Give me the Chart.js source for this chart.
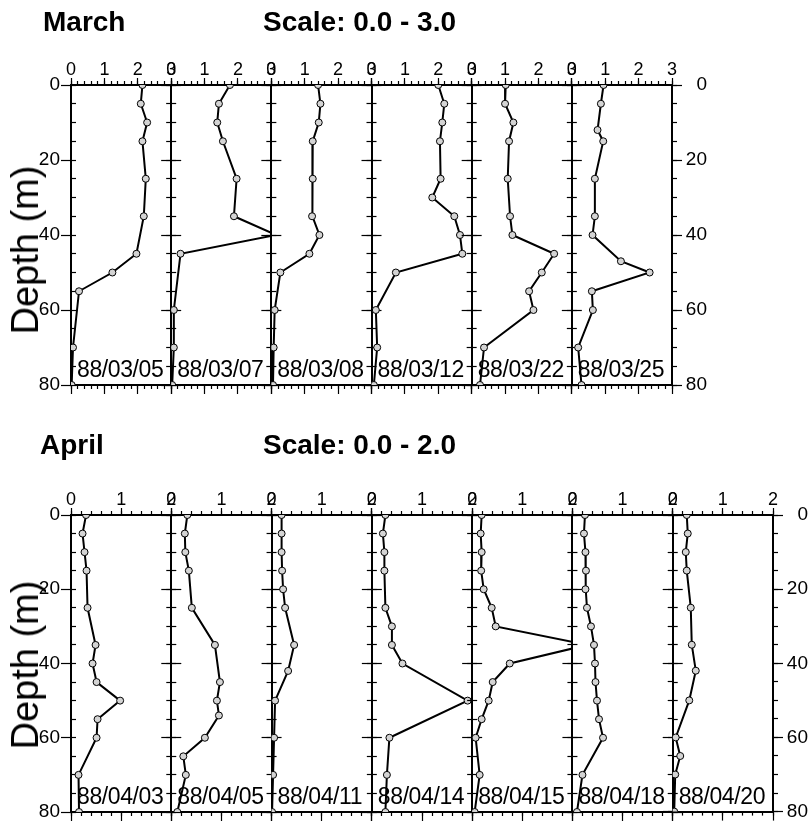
<!DOCTYPE html>
<html>
<head>
<meta charset="utf-8">
<script src="https://cdn.jsdelivr.net/npm/chart.js@4/dist/chart.umd.min.js"></script>
<style>
  html, body { margin: 0; padding: 0; background: #fff; }
  #wrap { position: relative; width: 812px; height: 825px; overflow: hidden;
          font-family: "Liberation Sans", Arial, Helvetica, sans-serif; }
  #wrap canvas { position: absolute; left: 0; top: 0; }
  .t { position: absolute; white-space: nowrap; color: #000; line-height: 1; }
</style>
</head>
<body>
<div id="wrap"></div>
<script>
// ---- Profile data: depth (m) and value at each station ----
const marchDates = ['88/03/05', '88/03/07', '88/03/08', '88/03/12', '88/03/22', '88/03/25'];
const aprilDates = ['88/04/03', '88/04/05', '88/04/11', '88/04/14', '88/04/15', '88/04/18', '88/04/20'];

const depth_880305 = [0, 5, 10, 15, 25, 35, 45, 50, 55, 70, 80];
const value_880305 = [2.14, 2.09, 2.28, 2.14, 2.24, 2.18, 1.96, 1.24, 0.24, 0.06, 0.02];

const depth_880307 = [0, 5, 10, 15, 25, 35, 40, 45, 60, 70, 80];
const value_880307 = [1.76, 1.43, 1.38, 1.55, 1.96, 1.88, 3.15, 0.28, 0.08, 0.08, 0.03];

const depth_880308 = [0, 5, 10, 15, 25, 35, 40, 45, 50, 60, 70, 80];
const value_880308 = [1.40, 1.47, 1.42, 1.24, 1.24, 1.22, 1.44, 1.14, 0.27, 0.10, 0.07, 0.05];

const depth_880312 = [0, 5, 10, 15, 25, 30, 35, 40, 45, 50, 60, 70, 80];
const value_880312 = [2.00, 2.18, 2.12, 2.05, 2.07, 1.82, 2.48, 2.65, 2.72, 0.73, 0.13, 0.17, 0.07];

const depth_880322 = [0, 5, 10, 15, 25, 35, 40, 45, 50, 55, 60, 70, 80];
const value_880322 = [1.02, 1.00, 1.25, 1.12, 1.08, 1.15, 1.22, 2.47, 2.10, 1.72, 1.85, 0.37, 0.25];

const depth_880325 = [0, 5, 12, 15, 25, 35, 40, 47, 50, 55, 60, 70, 80];
const value_880325 = [0.95, 0.87, 0.77, 0.94, 0.69, 0.69, 0.62, 1.47, 2.33, 0.60, 0.63, 0.19, 0.29];

const depth_880403 = [0, 5, 10, 15, 25, 35, 40, 45, 50, 55, 60, 70, 80];
const value_880403 = [0.30, 0.23, 0.27, 0.31, 0.33, 0.49, 0.43, 0.51, 0.98, 0.53, 0.51, 0.15, 0.16];

const depth_880405 = [0, 5, 10, 15, 25, 35, 45, 50, 54, 60, 65, 70, 80];
const value_880405 = [0.32, 0.27, 0.28, 0.35, 0.41, 0.87, 0.97, 0.91, 0.95, 0.67, 0.24, 0.29, 0.12];

const depth_880411 = [0, 5, 10, 15, 20, 25, 35, 42, 50, 60, 70, 80];
const value_880411 = [0.20, 0.20, 0.20, 0.21, 0.23, 0.27, 0.45, 0.33, 0.07, 0.05, 0.03, 0.01];

const depth_880414 = [0, 5, 10, 15, 25, 30, 35, 40, 50, 60, 70, 80];
const value_880414 = [0.27, 0.22, 0.25, 0.25, 0.27, 0.40, 0.40, 0.61, 1.91, 0.35, 0.30, 0.27];

const depth_880415 = [0, 5, 10, 15, 20, 25, 30, 35, 40, 45, 50, 55, 60, 70, 80];
const value_880415 = [0.19, 0.17, 0.19, 0.18, 0.23, 0.39, 0.47, 2.30, 0.75, 0.41, 0.33, 0.19, 0.07, 0.15, 0.05];

const depth_880418 = [0, 5, 10, 15, 20, 25, 30, 35, 40, 45, 50, 55, 60, 70, 80];
const value_880418 = [0.25, 0.23, 0.26, 0.27, 0.26, 0.29, 0.37, 0.43, 0.45, 0.46, 0.49, 0.53, 0.61, 0.20, 0.09];

const depth_880420 = [0, 5, 10, 15, 25, 35, 42, 50, 60, 65, 70, 80];
const value_880420 = [0.28, 0.30, 0.26, 0.28, 0.36, 0.38, 0.46, 0.33, 0.06, 0.15, 0.05, 0.03];

// ---- Tick labels ----
const marchValueTicks = [0, 1, 2, 3];
const aprilValueTicks = [0, 1, 2];
const valueMinorStep = 0.2;
const depthMajorTicks = [0, 20, 40, 60, 80];
const depthMinorTicks = [0, 5, 10, 15, 20, 25, 30, 35, 40, 45, 50, 55, 60, 65, 70, 75, 80];

const marchProfiles = [
  [depth_880305, value_880305], [depth_880307, value_880307], [depth_880308, value_880308],
  [depth_880312, value_880312], [depth_880322, value_880322], [depth_880325, value_880325]
];
const aprilProfiles = [
  [depth_880403, value_880403], [depth_880405, value_880405], [depth_880411, value_880411],
  [depth_880414, value_880414], [depth_880415, value_880415], [depth_880418, value_880418],
  [depth_880420, value_880420]
];

// ---- Layout ----
const W = 812, H = 825;
const FONT = '"Liberation Sans", Arial, Helvetica, sans-serif';
const TOP_AXIS_H = 30, LEFT_AXIS_W = 40, RIGHT_AXIS_W = 35;
const wrap = document.getElementById('wrap');

function minorTicks(max) {
  const out = [];
  for (let i = 0; i <= Math.round(max / valueMinorStep); i++) out.push(+(i * valueMinorStep).toFixed(2));
  return out;
}

function setTicks(values) { return scale => { scale.ticks = values.map(v => ({ value: v })); }; }
function fixSize(size) {
  return scale => { if (scale.isHorizontal()) scale.height = size; else scale.width = size; };
}

// One axis = one set of tick marks (minor or major) on one side of a panel.
function tickAxis(o) {
  return {
    type: 'linear', axis: o.axis, position: o.position, weight: o.weight || 0,
    min: o.min, max: o.max, reverse: !!o.reverse,
    afterBuildTicks: setTicks(o.values),
    afterFit: fixSize(o.size || 0),
    ticks: {
      display: !!o.labels, autoSkip: false, padding: o.padding || 0, color: '#000',
      font: { family: FONT, size: o.fontSize || 18 }, crossAlign: o.crossAlign || 'near',
      maxRotation: 0, minRotation: 0, callback: v => String(v)
    },
    grid: { display: true, drawOnChartArea: false, drawTicks: true, tickLength: o.len,
            tickColor: '#000', tickWidth: o.tw || 1.2, color: '#000' },
    border: { display: !!o.border, color: '#000', width: 2 }
  };
}

function addText(str, x, baseline, size, weight, extra) {
  const d = document.createElement('div');
  d.className = 't';
  d.textContent = str;
  d.style.left = x + 'px';
  d.style.top = (baseline - 0.8465 * size) + 'px';
  d.style.fontSize = size + 'px';
  d.style.fontWeight = weight || 'normal';
  if (extra) Object.assign(d.style, extra);
  wrap.appendChild(d);
}

function drawRow(row) {
  const n = row.profiles.length;
  const pw = (row.right - row.left) / n;
  const xMinor = minorTicks(row.xMax);
  row.profiles.forEach(([depths, values], i) => {
    const L = row.left + i * pw, R = L + pw;
    const first = i === 0, last = i === n - 1;
    const canvas = document.createElement('canvas');
    canvas.width = W; canvas.height = H;
    wrap.appendChild(canvas);
    const xr = { min: 0, max: row.xMax };
    const yr = { min: 0, max: 80, reverse: true };
    new Chart(canvas, {
      type: 'scatter',
      data: {
        datasets: [{
          data: depths.map((d, k) => ({ x: values[k], y: d })),
          xAxisID: 'x', yAxisID: 'y',
          showLine: true, tension: 0,
          borderColor: '#000', borderWidth: 2,
          pointRadius: 3.5, pointBorderWidth: 1,
          pointBackgroundColor: '#d4d4d4', pointBorderColor: '#000',
          clip: 0
        }]
      },
      options: {
        responsive: false, animation: false, devicePixelRatio: 1, events: [],
        layout: { padding: {
          left: L - LEFT_AXIS_W, right: W - R - RIGHT_AXIS_W,
          top: row.top - TOP_AXIS_H, bottom: H - row.bottom } },
        plugins: { legend: { display: false }, tooltip: { enabled: false } },
        scales: {
          x: tickAxis({ axis: 'x', position: 'top', ...xr, values: xMinor, len: 4, border: true }),
          xTopMajor: tickAxis({ axis: 'x', position: 'top', ...xr, values: row.xTicks, len: 7,
                                labels: true, padding: -3, fontSize: 18, weight: 1, size: TOP_AXIS_H }),
          xBottom: tickAxis({ axis: 'x', position: 'bottom', ...xr, values: xMinor, len: 4, border: true }),
          xBottomMajor: tickAxis({ axis: 'x', position: 'bottom', ...xr, values: row.xTicks, len: 9, weight: 1 }),
          y: tickAxis({ axis: 'y', position: 'left', ...yr, values: depthMinorTicks,
                        len: first ? -5 : 5, border: true }),
          yLeftMajor: tickAxis({ axis: 'y', position: 'left', ...yr, values: depthMajorTicks, len: 10,
                                 labels: first, padding: 1, fontSize: 19, weight: 1, size: LEFT_AXIS_W }),
          yRight: tickAxis({ axis: 'y', position: 'right', ...yr, values: depthMinorTicks, len: 5, border: true }),
          yRightMajor: tickAxis({ axis: 'y', position: 'right', ...yr, values: depthMajorTicks, len: 10,
                                  labels: last, padding: 2, fontSize: 19, crossAlign: 'far',
                                  weight: 1, size: RIGHT_AXIS_W })
        }
      }
    });
    addText(row.dates[i], L + 6, row.bottom - 8, 23, 'normal', { letterSpacing: '-0.4px' });
  });

  // rotated axis title
  const t = document.createElement('div');
  t.className = 't';
  t.textContent = 'Depth (m)';
  t.style.fontSize = '38px';
  t.style.left = '25px';
  t.style.top = row.titleY + 'px';
  t.style.transform = 'translate(-50%, -50%) rotate(-90deg)';
  wrap.appendChild(t);

  addText(row.month, row.monthX, row.headBase, 28, 'bold');
  addText(row.scaleText, 263, row.headBase, 28, 'bold');
}

drawRow({ profiles: marchProfiles, dates: marchDates, xMax: 3, xTicks: marchValueTicks,
          left: 71, right: 672, top: 85, bottom: 385, titleY: 250,
          month: 'March', monthX: 43, scaleText: 'Scale: 0.0 - 3.0', headBase: 32 });
drawRow({ profiles: aprilProfiles, dates: aprilDates, xMax: 2, xTicks: aprilValueTicks,
          left: 71, right: 773, top: 515, bottom: 812, titleY: 665,
          month: 'April', monthX: 40, scaleText: 'Scale: 0.0 - 2.0', headBase: 455 });
</script>
</body>
</html>
